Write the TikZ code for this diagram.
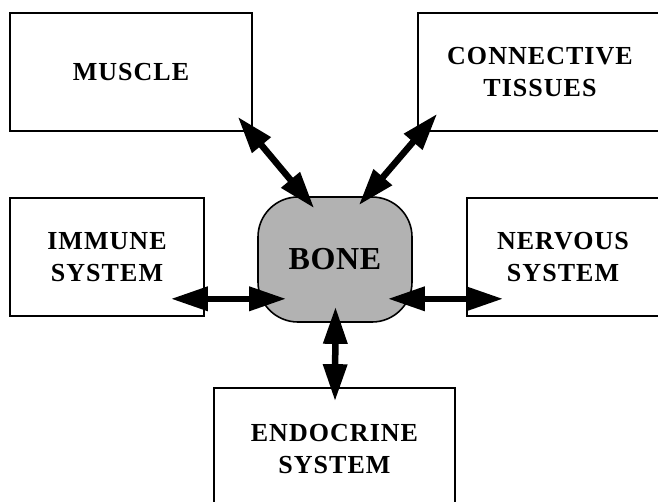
\documentclass[tikz,border=0pt]{standalone}
\usepackage{fontspec}
\setmainfont{Liberation Serif}
\usetikzlibrary{arrows.meta,calc}
\tikzset{
  sysbox/.style={draw=black, line width=1.6pt, fill=white, align=center,
    font=\bfseries\fontsize{26pt}{32pt}\selectfont\addfontfeature{LetterSpace=4}, inner sep=0pt},
  bonebox/.style={draw=black, line width=1.6pt, fill=gray!60, rounded corners=40pt,
    minimum width=154pt, minimum height=125pt, inner sep=0pt,
    font=\bfseries\fontsize{32pt}{36pt}\selectfont\addfontfeature{LetterSpace=2}},
  link/.style={line width=6.5pt, {Triangle[length=37pt,width=23pt]}-{Triangle[length=37pt,width=23pt]}}
}
\begin{document}
\begin{tikzpicture}[x=1pt,y=-1pt]
\clip (0,0) rectangle (658,501);
\fill[white] (0,0) rectangle (658,501);
\node[sysbox, minimum width=242pt, minimum height=118pt] (muscle) at (131,72) {MUSCLE};
\node[sysbox, minimum width=244pt, minimum height=118pt] (conn) at (540,72) {CONNECTIVE\\TISSUES};
\node[sysbox, minimum width=194pt, minimum height=118pt] (immune) at (107,257) {IMMUNE\\SYSTEM};
\node[sysbox, minimum width=192pt, minimum height=118pt] (nervous) at (563,257) {NERVOUS\\SYSTEM};
\node[sysbox, minimum width=241pt, minimum height=122pt] (endo) at (334.5,449) {ENDOCRINE\\SYSTEM};
\node[bonebox] (bone) at (335,259.5) {BONE};
\coordinate (m1) at ($(muscle.south east)+(-15,-15)$);
\coordinate (b1) at ($(bone.north west)+(57,12)$);
\coordinate (c1) at ($(conn.south west)+(20,-18)$);
\coordinate (b2) at ($(bone.north east)+(-54,9)$);
\coordinate (i1) at ($(immune.south east)+(-34,-18)$);
\coordinate (b3) at ($(bone.south west)+(29,-24)$);
\coordinate (b4) at ($(bone.south east)+(-25,-24)$);
\coordinate (n1) at ($(nervous.south west)+(37,-18)$);
\coordinate (b5) at ($(bone.south)+(0.5,-16)$);
\coordinate (e1) at ($(endo.north)+(0.5,14)$);
\draw[link] (m1) -- (b1);
\draw[link] (c1) -- (b2);
\draw[link] (i1) -- (b3);
\draw[link] (b4) -- (n1);
\draw[link] (b5) -- (e1);
\end{tikzpicture}
\end{document}
